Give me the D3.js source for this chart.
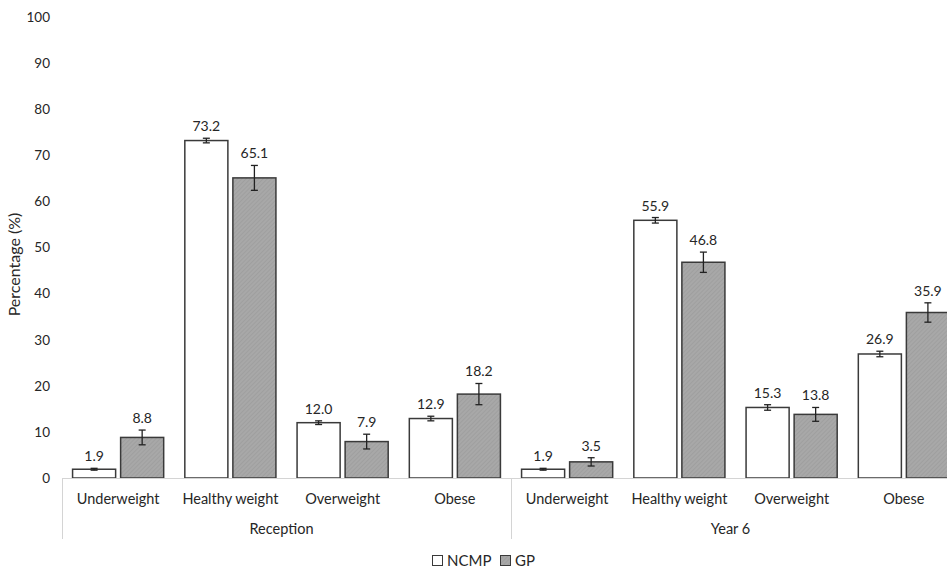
<!DOCTYPE html>
<html>
<head>
<meta charset="utf-8">
<script src="https://cdn.jsdelivr.net/npm/d3@7"></script>
<style>
  body { margin: 0; background: #fff; }
  text { font-family: Lato, "Open Sans", sans-serif; fill: #262626; }
</style>
</head>
<body>
<svg id="chart" width="947" height="570"></svg>
<script>
const groups = ['Reception', 'Year 6'];
const categories = ['Underweight', 'Healthy weight', 'Overweight', 'Obese'];
const series = ['NCMP', 'GP'];
// values per group, in category order
const ncmpValues = [[1.9, 73.2, 12.0, 12.9], [1.9, 55.9, 15.3, 26.9]];
const gpValues = [[8.8, 65.1, 7.9, 18.2], [3.5, 46.8, 13.8, 35.9]];
// half-width of the confidence intervals
const ncmpErr = [[0.2, 0.5, 0.4, 0.5], [0.2, 0.6, 0.6, 0.6]];
const gpErr = [[1.6, 2.7, 1.6, 2.3], [0.9, 2.2, 1.5, 2.1]];
const yTicks = [0, 10, 20, 30, 40, 50, 60, 70, 80, 90, 100];

const svg = d3.select('svg#chart');
const mLeft = 62, mRight = 960, mTop = 17, mBottom = 478;

const y = d3.scaleLinear().domain([0, 100]).range([mBottom, mTop]);
const xGroup = d3.scaleBand().domain(groups).range([mLeft, mRight]).paddingInner(0).paddingOuter(0);
const xCat = d3.scaleBand().domain(categories).range([0, xGroup.bandwidth()]);
const xSeries = d3.scaleBand().domain(series).range([0, xCat.bandwidth()]).paddingInner(0.104).paddingOuter(0.22);

// pattern for GP bars
const defs = svg.append('defs');
const pat = defs.append('pattern')
    .attr('id', 'hatch').attr('patternUnits', 'userSpaceOnUse')
    .attr('width', 3).attr('height', 3)
    .attr('patternTransform', 'rotate(45)');
pat.append('rect').attr('width', 3).attr('height', 3).attr('fill', '#a8a8a8');
pat.append('line').attr('x1', 0).attr('y1', 0).attr('x2', 0).attr('y2', 3)
    .attr('stroke', '#969696').attr('stroke-width', 1);

// y axis labels
const yAxis = svg.append('g')
    .attr('transform', `translate(${mLeft - 12},0)`)
    .call(d3.axisLeft(y).tickValues(yTicks).tickSize(0).tickPadding(0));
yAxis.select('.domain').remove();
yAxis.selectAll('text').style('font-size', '13.5px').attr('font-family', 'Lato, sans-serif');

svg.append('text')
    .attr('transform', `translate(20,${(mTop + mBottom) / 2 + 17}) rotate(-90)`)
    .attr('text-anchor', 'middle')
    .style('font-size', '16px')
    .text('Percentage (%)');

// data rows
const rows = [];
groups.forEach((g, gi) => {
    categories.forEach((c, ci) => {
        rows.push({ group: g, cat: c, series: 'NCMP', value: ncmpValues[gi][ci], err: ncmpErr[gi][ci] });
        rows.push({ group: g, cat: c, series: 'GP', value: gpValues[gi][ci], err: gpErr[gi][ci] });
    });
});
const barX = d => xGroup(d.group) + xCat(d.cat) + xSeries(d.series);
const bw = xSeries.bandwidth();

svg.append('g').selectAll('rect.bar')
    .data(rows)
    .join('rect')
    .classed('bar', true)
    .attr('x', barX)
    .attr('y', d => y(d.value))
    .attr('width', bw)
    .attr('height', d => y(0) - y(d.value))
    .attr('fill', d => d.series === 'GP' ? 'url(#hatch)' : '#fff')
    .attr('stroke', '#3a3a3a')
    .attr('stroke-width', 1.5);

// error bars
const eb = svg.append('g').attr('stroke', '#222').attr('stroke-width', 1.3);
rows.forEach(d => {
    const cx = barX(d) + bw / 2;
    const y1 = y(d.value + d.err), y2 = y(d.value - d.err);
    eb.append('line').attr('x1', cx).attr('x2', cx).attr('y1', y1).attr('y2', y2);
    eb.append('line').attr('x1', cx - 3.5).attr('x2', cx + 3.5).attr('y1', y1).attr('y2', y1);
    eb.append('line').attr('x1', cx - 3.5).attr('x2', cx + 3.5).attr('y1', y2).attr('y2', y2);
});

// value labels
svg.append('g').selectAll('text')
    .data(rows)
    .join('text')
    .attr('x', d => barX(d) + bw / 2)
    .attr('y', d => y(d.value + d.err) - 7)
    .attr('text-anchor', 'middle')
    .style('font-size', '14px')
    .text(d => d.value.toFixed(1));

// x axis
const axisCol = '#d4d4d4';
svg.append('line')
    .attr('x1', mLeft).attr('x2', mRight)
    .attr('y1', mBottom + 0.5).attr('y2', mBottom + 0.5)
    .attr('stroke', axisCol).attr('stroke-width', 1);
groups.forEach(g => {
    svg.append('line')
        .attr('x1', xGroup(g) + 0.5).attr('x2', xGroup(g) + 0.5)
        .attr('y1', mBottom).attr('y2', 539)
        .attr('stroke', axisCol).attr('stroke-width', 1);
    categories.forEach(c => {
        svg.append('text')
            .attr('x', xGroup(g) + xCat(c) + xCat.bandwidth() / 2)
            .attr('y', 504)
            .attr('text-anchor', 'middle')
            .style('font-size', '14.5px')
            .text(c);
    });
    svg.append('text')
        .attr('x', xGroup(g) + xGroup.bandwidth() / 2 - 5)
        .attr('y', 534)
        .attr('text-anchor', 'middle')
        .style('font-size', '14.5px')
        .text(g);
});

// legend
const legend = svg.append('g').attr('transform', 'translate(432,555)');
const legItems = [{ name: 'NCMP', fill: '#fff', dx: 0 }, { name: 'GP', fill: 'url(#hatch)', dx: 68 }];
legItems.forEach(it => {
    legend.append('rect').attr('x', it.dx + 0.5).attr('y', 0.5).attr('width', 10).attr('height', 10)
        .attr('fill', it.fill).attr('stroke', '#3a3a3a').attr('stroke-width', 1);
    legend.append('text').attr('x', it.dx + 15).attr('y', 11)
        .style('font-size', '15px').text(it.name);
});
</script>
</body>
</html>
